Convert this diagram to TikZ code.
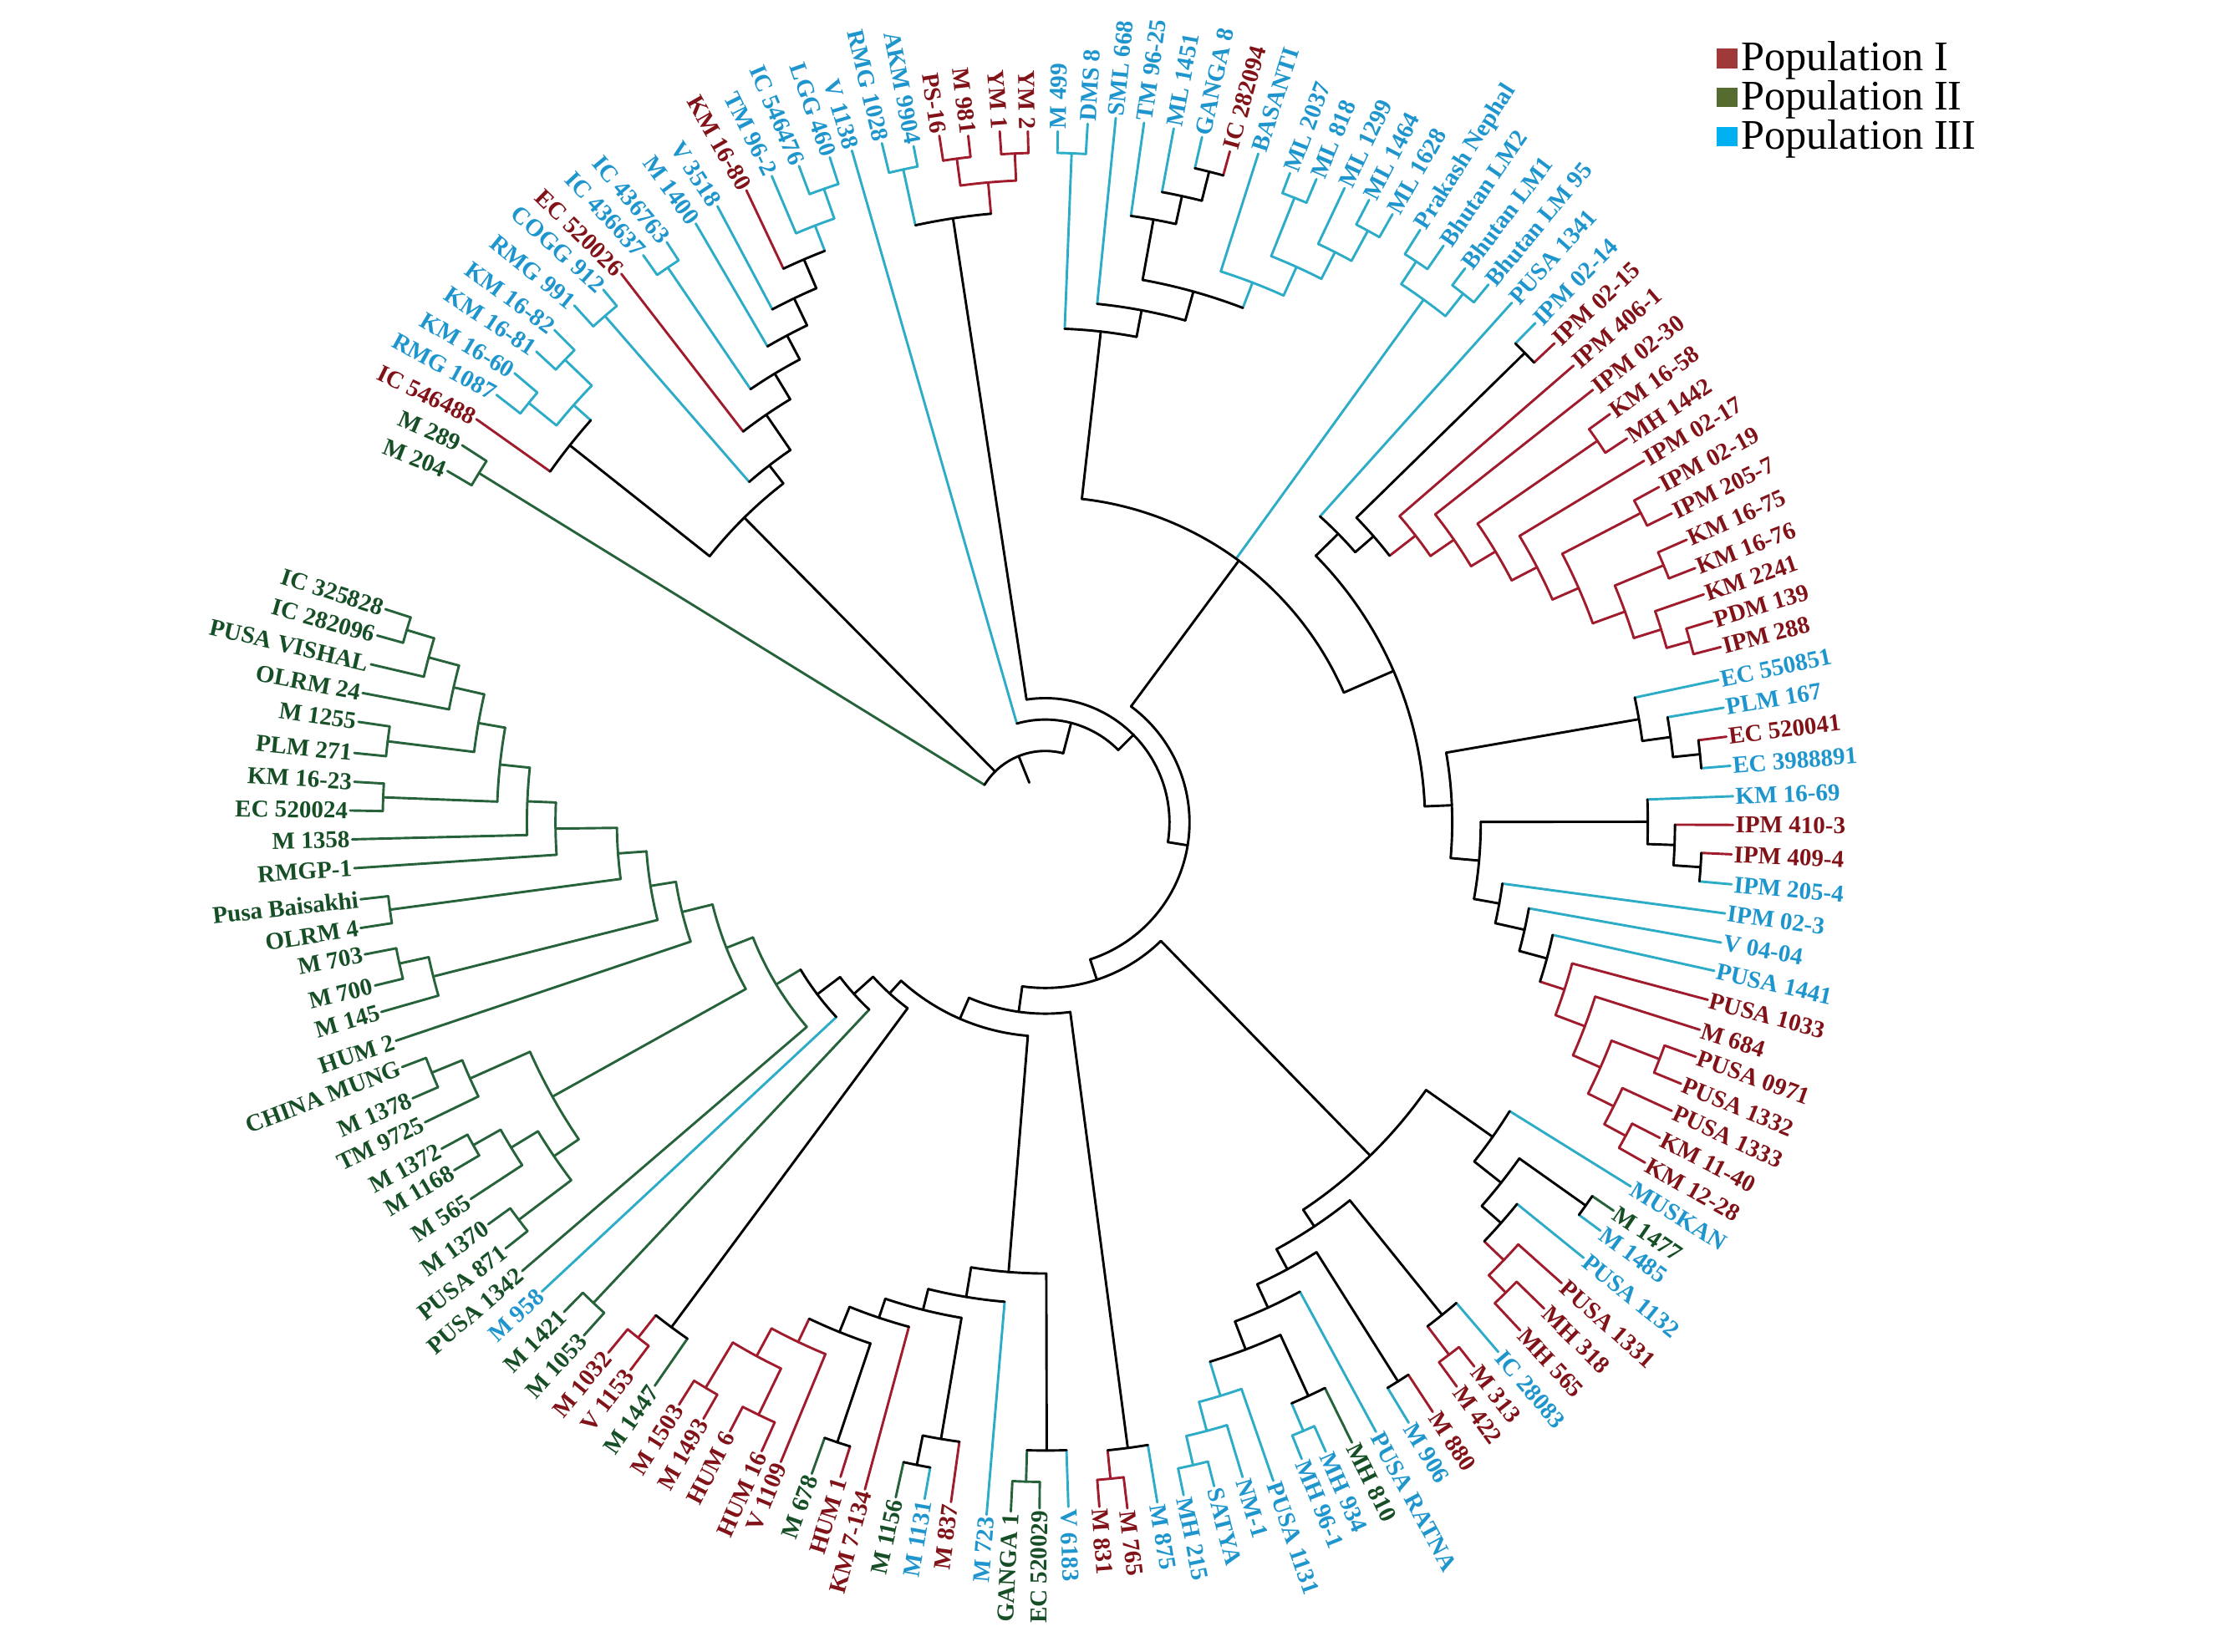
\documentclass[tikz,border=0pt]{standalone}
\usepackage{fontspec}
\setmainfont{Liberation Serif}
\usetikzlibrary{calc}
\definecolor{lnR}{RGB}{160,28,45}
\definecolor{txR}{RGB}{128,18,24}
\definecolor{lnG}{RGB}{38,98,58}
\definecolor{txG}{RGB}{22,78,38}
\definecolor{lnC}{RGB}{45,172,200}
\definecolor{txC}{RGB}{30,150,205}
\definecolor{lnK}{RGB}{0,0,0}
\definecolor{legR}{RGB}{160,58,58}
\definecolor{legG}{RGB}{85,107,47}
\definecolor{legC}{RGB}{0,176,240}
\tikzset{
  branch/.style={line width=1.7pt,line cap=round,line join=round},
  lbl/.style={font=\bfseries\fontsize{17}{18.5}\selectfont,inner sep=1.5pt},
  legtext/.style={font=\fontsize{29.5}{32}\selectfont,inner sep=0pt,anchor=base west},
}
% leaf: id, x, y (screen px), population key, label
\newcommand\leaf[5]{%
  \pgfmathsetmacro\lfa{atan2(576-#3,#2-732)}%
  \pgfmathsetmacro\lfa{\lfa>155?\lfa-360:\lfa}%
  \pgfmathsetmacro\lfr{veclen(#2-732,576-#3)}%
  \expandafter\xdef\csname ang@#1\endcsname{\lfa}%
  \expandafter\xdef\csname rad@#1\endcsname{\lfr}%
  \expandafter\xdef\csname col@#1\endcsname{ln#4}%
  \ifdim\lfa pt>90pt \def\lfanc{east}%
    \pgfmathsetmacro\lfrot{(\lfa-180)*(\lfa>105 ? 1-0.3*(\lfa-105)/45 : 1)}%
  \else\ifdim\lfa pt<-90pt \def\lfanc{east}\pgfmathsetmacro\lfrot{\lfa+180}%
  \else\def\lfanc{west}\let\lfrot\lfa\fi\fi
  \node[lbl,text=tx#4,anchor=\lfanc,rotate=\lfrot] (#1) at (#2,-#3) {#5};%
}
% internal node: id, radius, colour key, children
\newcommand\inode[4]{%
  \gdef\amin{1000}\gdef\amax{-1000}%
  \foreach \ch in {#4}{%
    \edef\cha{\csname ang@\ch\endcsname}%
    \edef\chr{\csname rad@\ch\endcsname}%
    \edef\chc{\csname col@\ch\endcsname}%
    \pgfmathsetmacro\tmpm{min(\amin,\cha)}\xdef\amin{\tmpm}%
    \pgfmathsetmacro\tmpm{max(\amax,\cha)}\xdef\amax{\tmpm}%
    \draw[branch,draw=\chc] ($(C)+(\cha:#2pt)$) -- ($(C)+(\cha:\chr pt)$);%
  }%
  \draw[branch,draw=ln#3] ($(C)+(\amin:#2pt)$) arc[start angle=\amin,end angle=\amax,radius=#2pt];%
  \pgfmathsetmacro\tmpm{(\amin+\amax)/2}%
  \expandafter\xdef\csname ang@#1\endcsname{\tmpm}%
  \expandafter\xdef\csname rad@#1\endcsname{#2}%
  \expandafter\xdef\csname col@#1\endcsname{ln#3}%
  \coordinate (#1) at ($(C)+(\tmpm:#2pt)$);%
}
\begin{document}
\begin{tikzpicture}[x=1pt,y=1pt]
\fill[white] (0,0) rectangle (1568,-1157);
\useasboundingbox (0,0) rectangle (1568,-1157);
\coordinate (C) at (732,-576);
% ---------------- leaves ----------------
\leaf{t01}{313.3}{329.9}{G}{M 204}
\leaf{t02}{323.5}{311.8}{G}{M 289}
\leaf{t03}{333.6}{293.6}{R}{IC 546488}
\leaf{t04}{347.6}{276.5}{C}{RMG 1087}
\leaf{t05}{360.3}{261.4}{C}{KM 16-60}
\leaf{t06}{375.5}{246.2}{C}{KM 16-81}
\leaf{t07}{388.2}{231.1}{C}{KM 16-82}
\leaf{t08}{402.2}{214}{C}{RMG 991}
\leaf{t09}{422.5}{202.9}{C}{COGG 912}
\leaf{t10}{435.1}{191.8}{R}{EC 520026}
\leaf{t11}{450.4}{178.7}{C}{IC 436637}
\leaf{t12}{466.9}{169.6}{C}{IC 436763}
\leaf{t13}{487.2}{156.5}{C}{M 1400}
\leaf{t14}{502.4}{144.4}{C}{V 3518}
\leaf{t15}{522.7}{133.3}{R}{KM 16-80}
\leaf{t16}{540.5}{123.3}{C}{TM 96-2}
\leaf{t17}{559.5}{116.2}{C}{IC 546476}
\leaf{t18}{581.1}{110.2}{C}{LGG 460}
\leaf{t19}{596.6}{105.5}{C}{V 1138}
\leaf{t20}{617.6}{100.3}{C}{RMG 1028}
\leaf{t21}{639.8}{102.4}{C}{AKM 9904}
\leaf{t22}{657.8}{95.1}{R}{PS-16}
\leaf{t23}{678}{95.1}{R}{M 981}
\leaf{t24}{700.1}{92}{R}{YM 1}
\leaf{t25}{719.8}{92}{R}{YM 2}
\leaf{t26}{740.8}{92}{C}{M 499}
\leaf{t27}{761.7}{86.7}{C}{DMS 8}
\leaf{t28}{781.4}{82.6}{C}{SML 668}
\leaf{t29}{801.2}{86}{C}{TM 96-25}
\leaf{t30}{822}{90}{C}{ML 1451}
\leaf{t31}{841.8}{96}{C}{GANGA 8}
\leaf{t32}{861.3}{106}{R}{IC 282094}
\leaf{t33}{881.2}{107.6}{C}{BASANTI}
\leaf{t34}{903.4}{121.2}{C}{ML 2037}
\leaf{t35}{921.9}{125.4}{C}{ML 818}
\leaf{t36}{941.6}{131.7}{C}{ML 1299}
\leaf{t37}{958.8}{140}{C}{ML 1464}
\leaf{t38}{975.2}{150}{C}{ML 1628}
\leaf{t39}{994.6}{161}{C}{Prakash Nephal}
\leaf{t40}{1011}{172}{C}{Bhutan LM2}
\leaf{t41}{1026}{188}{C}{Bhutan LM1}
\leaf{t42}{1042.4}{199.3}{C}{Bhutan LM 95}
\leaf{t43}{1058.8}{212}{C}{PUSA 1341}
\leaf{t44}{1075.3}{226.2}{C}{IPM 02-14}
\leaf{t45}{1088.7}{240.4}{R}{IPM 02-15}
\leaf{t46}{1102.1}{256}{R}{IPM 406-1}
\leaf{t47}{1115.6}{273}{R}{IPM 02-30}
\leaf{t48}{1127.5}{290}{R}{KM 16-58}
\leaf{t49}{1139.4}{307.1}{R}{MH 1442}
\leaf{t50}{1151.4}{322.7}{R}{IPM 02-17}
\leaf{t51}{1161.8}{341.1}{R}{IPM 02-19}
\leaf{t52}{1170.8}{359.6}{R}{IPM 205-7}
\leaf{t53}{1181.3}{378}{R}{KM 16-75}
\leaf{t54}{1187.2}{397.9}{R}{KM 16-76}
\leaf{t55}{1193.2}{416.3}{R}{KM 2241}
\leaf{t56}{1199.2}{434.8}{R}{PDM 139}
\leaf{t57}{1205.1}{453.2}{R}{IPM 288}
\leaf{t58}{1203.4}{476.2}{C}{EC 550851}
\leaf{t59}{1207.1}{495.7}{C}{PLM 167}
\leaf{t60}{1209}{516}{R}{EC 520041}
\leaf{t61}{1211.8}{536.4}{C}{EC 3988891}
\leaf{t62}{1213.7}{557.7}{C}{KM 16-69}
\leaf{t63}{1213.7}{577.8}{R}{IPM 410-3}
\leaf{t64}{1212.7}{598.4}{R}{IPM 409-4}
\leaf{t65}{1212.7}{619.4}{C}{IPM 205-4}
\leaf{t66}{1208.1}{639.8}{C}{IPM 02-3}
\leaf{t67}{1205.3}{660.2}{C}{V 04-04}
\leaf{t68}{1200.6}{680}{C}{PUSA 1441}
\leaf{t69}{1196}{700.3}{R}{PUSA 1033}
\leaf{t70}{1190.4}{721.3}{R}{M 684}
\leaf{t71}{1187.6}{740.2}{R}{PUSA 0971}
\leaf{t72}{1177.3}{759.1}{R}{PUSA 1332}
\leaf{t73}{1170.8}{778.1}{R}{PUSA 1333}
\leaf{t74}{1162.4}{797}{R}{KM 11-40}
\leaf{t75}{1152.1}{814.4}{R}{KM 12-28}
\leaf{t76}{1142}{831}{C}{MUSKAN}
\leaf{t77}{1130}{848}{G}{M 1477}
\leaf{t78}{1120.8}{862}{C}{M 1485}
\leaf{t79}{1109}{881}{C}{PUSA 1132}
\leaf{t80}{1093.7}{898.8}{R}{PUSA 1331}
\leaf{t81}{1081.4}{916.6}{R}{MH 318}
\leaf{t82}{1064.6}{931.8}{R}{MH 565}
\leaf{t83}{1049.3}{947}{C}{IC 28083}
\leaf{t84}{1032.5}{957.2}{R}{M 313}
\leaf{t85}{1020.2}{971.2}{R}{M 422}
\leaf{t86}{1003.4}{989}{R}{M 880}
\leaf{t87}{986.5}{996.5}{C}{M 906}
\leaf{t88}{963.6}{1002.9}{C}{PUSA RATNA}
\leaf{t89}{946.8}{1010.5}{G}{MH 810}
\leaf{t90}{928.4}{1016.8}{C}{MH 934}
\leaf{t91}{911.6}{1021.9}{C}{MH 96-1}
\leaf{t92}{891.7}{1037.2}{C}{PUSA 1131}
\leaf{t93}{870.2}{1034.6}{C}{NM-1}
\leaf{t94}{850.3}{1041}{C}{SATYA}
\leaf{t95}{828.9}{1047.3}{C}{MH 215}
\leaf{t96}{810.5}{1052.4}{C}{M 875}
\leaf{t97}{789.5}{1056.5}{R}{M 765}
\leaf{t98}{769.9}{1055.4}{R}{M 831}
\leaf{t99}{748.2}{1055.4}{C}{V 6183}
\leaf{t100}{728}{1056.5}{G}{EC 520029}
\leaf{t101}{707.9}{1058.7}{G}{GANGA 1}
\leaf{t102}{690.9}{1061}{C}{M 723}
\leaf{t103}{666}{1052.1}{R}{M 837}
\leaf{t104}{647.5}{1049.9}{C}{M 1131}
\leaf{t105}{627.3}{1048.8}{G}{M 1156}
\leaf{t106}{605.7}{1043.3}{R}{KM 7-134}
\leaf{t107}{588.6}{1034.5}{R}{HUM 1}
\leaf{t108}{568.5}{1032.3}{G}{M 678}
\leaf{t109}{546.8}{1024}{R}{V 1109}
\leaf{t110}{533.4}{1016.5}{R}{HUM 16}
\leaf{t111}{511.2}{1002.6}{R}{HUM 6}
\leaf{t112}{492.6}{993.8}{R}{M 1493}
\leaf{t113}{475.5}{983.9}{R}{M 1503}
\leaf{t114}{458.5}{970.7}{G}{M 1447}
\leaf{t115}{441.5}{959.6}{R}{V 1153}
\leaf{t116}{426}{947.5}{R}{M 1032}
\leaf{t117}{408.9}{935.4}{G}{M 1053}
\leaf{t118}{395}{918.9}{G}{M 1421}
\leaf{t119}{379.5}{904.6}{C}{M 958}
\leaf{t120}{365.6}{890.3}{G}{PUSA 1342}
\leaf{t121}{354}{874.5}{G}{PUSA 871}
\leaf{t122}{341.9}{857.5}{G}{M 1370}
\leaf{t123}{329.6}{839.8}{G}{M 565}
\leaf{t124}{318}{819.7}{G}{M 1168}
\leaf{t125}{309.2}{804.6}{G}{M 1372}
\leaf{t126}{297.6}{786.1}{G}{TM 9725}
\leaf{t127}{288.9}{769.3}{G}{M 1378}
\leaf{t128}{281.6}{747.4}{G}{CHINA MUNG}
\leaf{t129}{277.2}{729}{G}{HUM 2}
\leaf{t130}{267}{708.8}{G}{M 145}
\leaf{t131}{262.6}{690.3}{G}{M 700}
\leaf{t132}{255.4}{668.5}{G}{M 703}
\leaf{t133}{252.5}{650}{G}{OLRM 4}
\leaf{t134}{252.5}{629.9}{G}{Pusa Baisakhi}
\leaf{t135}{248.1}{608.1}{G}{RMGP-1}
\leaf{t136}{246.6}{587.9}{G}{M 1358}
\leaf{t137}{245.2}{567.7}{G}{EC 520024}
\leaf{t138}{248.1}{547.6}{G}{KM 16-23}
\leaf{t139}{248.1}{527.4}{G}{PLM 271}
\leaf{t140}{251}{505.6}{G}{M 1255}
\leaf{t141}{253.9}{485.4}{G}{OLRM 24}
\leaf{t142}{259.7}{465.3}{G}{PUSA VISHAL}
\leaf{t143}{264.1}{445.1}{G}{IC 282096}
\leaf{t144}{269.9}{426.7}{G}{IC 325828}
% ---------------- top-left clade ----------------
\inode{nMZ}{466}{G}{t01,t02}
\inode{nKMa}{466}{C}{t04,t05}
\inode{nKMb}{467}{C}{t06,t07}
\inode{nKM}{441}{C}{nKMa,nKMb}
\inode{nQ}{425}{K}{t03,nKM}
\inode{nRC}{470}{C}{t08,t09}
\inode{nIC}{470}{C}{t11,t12}
\inode{nL1}{470}{C}{t17,t18}
\inode{nL2}{448}{C}{t16,nL1}
\inode{nL3}{429}{K}{t15,nL2}
\inode{nL4}{407}{K}{t14,nL3}
\inode{nL5}{386}{K}{t13,nL4}
\inode{nL6}{367}{K}{nIC,nL5}
\inode{nL7}{346}{K}{t10,nL6}
\inode{nL8}{316}{K}{nRC,nL7}
\inode{nTL}{300}{K}{nQ,nL8}
% ---------------- top clade A ----------------
\inode{nAK}{468}{C}{t20,t21}
\inode{nPM}{469}{R}{t22,t23}
\inode{nYM}{469}{R}{t24,t25}
\inode{nR4}{450}{R}{nPM,nYM}
\inode{nTA}{428}{K}{nAK,nR4}
% ---------------- top clade B ----------------
\inode{nMD}{469}{C}{t26,t27}
\inode{nGI}{470}{K}{t31,t32}
\inode{nM51}{449}{K}{t30,nGI}
\inode{nTM}{429}{K}{t29,nM51}
\inode{nML1}{471}{C}{t34,t35}
\inode{nML2}{472}{C}{t37,t38}
\inode{nML3}{448}{C}{t36,nML2}
\inode{nML}{427}{C}{nML1,nML3}
\inode{nBAS}{405}{C}{t33,nML}
\inode{nTB}{386}{K}{nTM,nBAS}
\inode{nSML}{365}{K}{t28,nTB}
\inode{nTB1}{346}{K}{nMD,nSML}
\inode{nBh1}{471}{C}{t39,t40}
\inode{nBh2}{472}{C}{t41,t42}
\inode{nBh}{452}{C}{nBh1,nBh2}
\inode{nI2}{470}{K}{t44,t45}
\inode{nPI}{469}{R}{t56,t57}
\inode{nR7}{452}{R}{t55,nPI}
\inode{nK75}{469}{R}{t53,t54}
\inode{nR6}{432}{R}{nK75,nR7}
\inode{nI19}{470}{R}{t51,t52}
\inode{nR5}{408}{R}{nI19,nR6}
\inode{nR4b}{388}{R}{t50,nR5}
\inode{nKM58}{470}{R}{t48,t49}
\inode{nR3}{368}{R}{nKM58,nR4b}
\inode{nR2}{348}{R}{t47,nR3}
\inode{nRed}{328}{R}{t46,nR2}
\inode{nIPM}{305}{K}{nI2,nRed}
\inode{nB1}{288}{K}{t43,nIPM}
% ---------------- right side ----------------
\inode{nE1}{461}{K}{t60,t61}
\inode{nE2}{442}{K}{t59,nE1}
\inode{nEC}{422}{K}{t58,nE2}
\inode{nK1}{460}{K}{t64,t65}
\inode{nK2}{441}{K}{t63,nK1}
\inode{nKMg}{422}{K}{t62,nK2}
\inode{nKK}{462}{R}{t74,t75}
\inode{nX3}{445}{R}{t73,nKK}
\inode{nPP}{461}{R}{t71,t72}
\inode{nX2}{425}{R}{nPP,nX3}
\inode{nX1}{404}{R}{t70,nX2}
\inode{nRP}{382}{R}{t69,nX1}
\inode{nLd3}{364}{K}{t68,nRP}
\inode{nLd2}{344}{K}{t67,nLd3}
\inode{nLd}{323}{K}{t66,nLd2}
\inode{nDel}{305}{K}{nKMg,nLd}
\inode{nGam}{285}{K}{nEC,nDel}
\inode{nBet}{266}{K}{nB1,nGam}
\inode{nTopB}{228}{K}{nTB1,nBh,nBet}
% ---------------- bottom-right ----------------
\inode{nMM2}{464}{K}{t77,t78}
\inode{nMH}{461}{R}{t81,t82}
\inode{nBa4}{444}{R}{t80,nMH}
\inode{nBa3}{425}{K}{t79,nBa4}
\inode{nBa2}{407}{K}{nMM2,nBa3}
\inode{nBRa}{383}{K}{t76,nBa2}
\inode{nM3}{468}{R}{t84,t85}
\inode{nBb1}{443}{K}{t83,nM3}
\inode{nM8}{463}{K}{t86,t87}
\inode{nSM}{462}{C}{t94,t95}
\inode{nNM}{441}{C}{t93,nSM}
\inode{nCy4}{420}{C}{t92,nNM}
\inode{nMH9}{463}{C}{t90,t91}
\inode{nMh}{442}{K}{t89,nMH9}
\inode{nBb4}{395}{K}{nMh,nCy4}
\inode{nBb3}{374}{K}{t88,nBb4}
\inode{nBb2}{356}{K}{nM8,nBb3}
\inode{nBRb}{340}{K}{nBb1,nBb2}
\inode{nBR}{326}{K}{nBRa,nBRb}
\inode{nM76}{462}{R}{t97,t98}
\inode{nMM}{442}{K}{t96,nM76}
% ---------------- bottom ----------------
\inode{nEG}{462}{G}{t100,t101}
\inode{nG3}{440}{K}{t99,nEG}
\inode{nM11}{459}{K}{t104,t105}
\inode{nM8b}{438}{K}{t103,nM11}
\inode{nHM}{458}{K}{t107,t108}
\inode{nHH}{461}{R}{t110,t111}
\inode{nMM15}{462}{R}{t112,t113}
\inode{nH1}{425}{R}{nHH,nMM15}
\inode{nH2}{403}{R}{t109,nH1}
\inode{nH3}{385}{K}{nHM,nH2}
\inode{nH4}{366}{K}{t106,nH3}
\inode{nH5}{352}{K}{nM8b,nH4}
\inode{nH6}{337}{K}{t102,nH5}
\inode{nBot}{316}{K}{nG3,nH6}
% ---------------- left ----------------
\inode{nVM}{460}{R}{t115,t116}
\inode{nW}{440}{K}{t114,nVM}
\inode{nM10}{462}{G}{t117,t118}
\inode{nP8}{462}{G}{t121,t122}
\inode{nM68}{460}{G}{t124,t125}
\inode{nM5}{438}{G}{t123,nM68}
\inode{nD}{416}{G}{nP8,nM5}
\inode{nMC}{464}{G}{t127,t128}
\inode{nGC}{441}{G}{t126,nMC}
\inode{nE}{395}{G}{nD,nGC}
\inode{nG1}{467}{G}{t143,t144}
\inode{nG2}{447}{G}{t142,nG1}
\inode{nG3b}{425}{G}{t141,nG2}
\inode{nPM2}{464}{G}{t139,t140}
\inode{nG4}{403}{G}{nPM2,nG3b}
\inode{nEK}{464}{G}{t137,t138}
\inode{nG5}{384}{G}{nEK,nG4}
\inode{nG6}{363}{G}{t136,nG5}
\inode{nG7}{343}{G}{t135,nG6}
\inode{nOP}{463}{G}{t133,t134}
\inode{nG8}{300}{G}{nOP,nG7}
\inode{nM77}{463}{G}{t131,t132}
\inode{nM14}{442}{G}{t130,nM77}
\inode{nG9}{280}{G}{nM14,nG8}
\inode{nG10}{262}{G}{t129,nG9}
\inode{nLG}{240}{G}{nE,nG10}
\inode{nLG2}{220}{G}{t120,nLG}
\inode{nLG3}{200}{K}{t119,nLG2}
\inode{nLG4}{180}{K}{nM10,nLG3}
\inode{nLG5}{162}{K}{nW,nLG4}
% ---------------- centre ----------------
\inode{nZ3}{150}{K}{nBot,nLG5}
\inode{nZ2}{134}{K}{nMM,nZ3}
\inode{nZ}{116}{K}{nBR,nZ2}
\inode{nY}{101}{K}{nTopB,nZ}
\inode{nX}{87}{K}{nTA,nY}
\inode{nP}{72}{K}{t19,nX}
\inode{nRoot}{50}{K}{nMZ,nTL,nP}
\edef\ra{\csname ang@nRoot\endcsname}
\coordinate (stub) at ($(C)+(\ra:30pt)$);
\draw[branch] (nRoot) -- (stub);
% ---------------- legend ----------------
\fill[legR] (1202,-34.1) rectangle (1216.8,-47.8);
\fill[legG] (1202,-61.5) rectangle (1216.8,-75.1);
\fill[legC] (1202,-88.8) rectangle (1216.8,-102.4);
\node[legtext] (lg1) at (1219,-49.7) {Population I};
\node[legtext] (lg2) at (1219,-77) {Population II};
\node[legtext] (lg3) at (1219,-104.3) {Population III};
\end{tikzpicture}
\end{document}
